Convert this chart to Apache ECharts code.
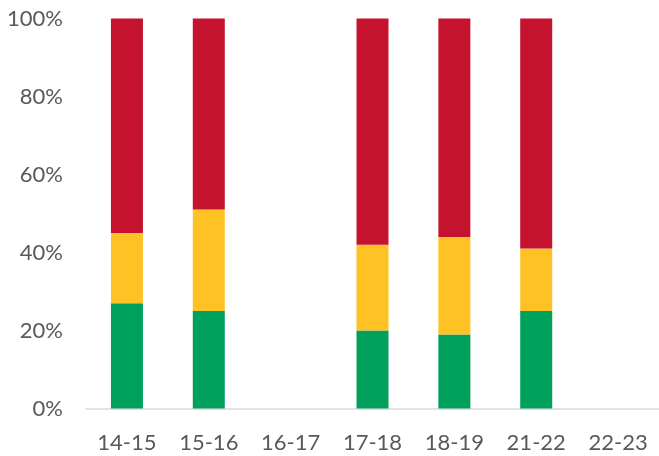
<!DOCTYPE html>
<html><head><meta charset="utf-8">
<script src="https://cdn.jsdelivr.net/npm/echarts@6/dist/echarts.min.js"></script>
<style>html,body{margin:0;padding:0;background:#fff}#c{width:659px;height:456px}</style>
</head><body><div id="c"></div>
<script>
const categories = ['14-15','15-16','16-17','17-18','18-19','21-22','22-23'];
const greenVals = [27, 25, null, 20, 19, 25, null];
const yellowVals = [18, 26, null, 22, 25, 16, null];
const redVals = [55, 49, null, 58, 56, 59, null];
const yTicks = [0, 20, 40, 60, 80, 100];

const chart = echarts.init(document.getElementById('c'));
const font = 'Lato, "Open Sans", sans-serif';
function s(name, data, color) {
  return {name, type:'bar', stack:'t', data, barWidth:32,
    itemStyle:{color}, emphasis:{disabled:true}};
}
chart.setOption({
  animation:false,
  grid:{left:86, right:0, top:18.5, bottom:47.5},
  xAxis:{type:'category', data:categories,
    axisLine:{lineStyle:{color:'#d9d9d9', width:1.5}},
    axisTick:{show:false},
    axisLabel:{color:'#595959', fontSize:22, fontFamily:font, margin:23}},
  yAxis:{type:'value', min:0, max:100, interval:20,
    axisLine:{show:false}, axisTick:{show:false}, splitLine:{show:false},
    axisLabel:{color:'#595959', fontSize:22, fontFamily:font, margin:23,
      formatter:v => yTicks.includes(v) ? v + '%' : ''}},
  series:[
    s('Green', greenVals, '#00A05D'),
    s('Yellow', yellowVals, '#FEC224'),
    s('Red', redVals, '#C4122F')
  ]
});
</script></body></html>
